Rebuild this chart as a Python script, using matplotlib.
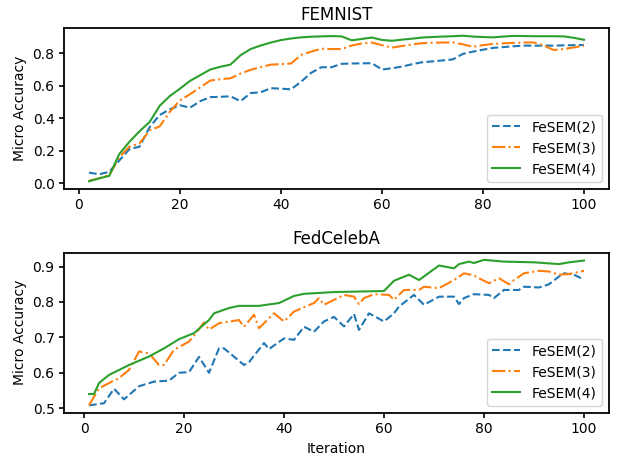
import matplotlib
matplotlib.use('Agg')
import matplotlib.pyplot as plt

plt.rcParams['axes.linewidth'] = 1.3
plt.rcParams['xtick.major.width'] = 1.2
plt.rcParams['ytick.major.width'] = 1.2

# FEMNIST (every 2 iterations)
fem_iter = list(range(2, 101, 2))
fem_sem2 = [0.065, 0.055, 0.07, 0.14, 0.21, 0.225, 0.345, 0.42, 0.455, 0.48,
            0.465, 0.505, 0.53, 0.532, 0.535, 0.505, 0.555, 0.56, 0.585, 0.582,
            0.578, 0.625, 0.68, 0.714, 0.714, 0.735, 0.737, 0.738, 0.739, 0.70,
            0.708, 0.718, 0.733, 0.745, 0.75, 0.756, 0.762, 0.796, 0.81, 0.822,
            0.833, 0.838, 0.843, 0.847, 0.847, 0.847, 0.847, 0.849, 0.85, 0.851]
fem_sem3 = [0.015, 0.03, 0.05, 0.16, 0.225, 0.245, 0.325, 0.35, 0.44, 0.51,
            0.548, 0.59, 0.632, 0.64, 0.646, 0.675, 0.698, 0.715, 0.73, 0.733,
            0.737, 0.79, 0.81, 0.828, 0.826, 0.826, 0.848, 0.86, 0.866, 0.85,
            0.835, 0.845, 0.855, 0.862, 0.865, 0.866, 0.867, 0.855, 0.84, 0.85,
            0.858, 0.861, 0.864, 0.866, 0.867, 0.848, 0.82, 0.826, 0.836, 0.847]
fem_sem4 = [0.012, 0.03, 0.045, 0.18, 0.255, 0.32, 0.377, 0.477, 0.537, 0.582,
            0.63, 0.665, 0.70, 0.717, 0.73, 0.788, 0.826, 0.848, 0.866, 0.881,
            0.891, 0.898, 0.902, 0.904, 0.906, 0.904, 0.88, 0.888, 0.897, 0.882,
            0.877, 0.884, 0.89, 0.897, 0.9, 0.903, 0.905, 0.908, 0.903, 0.9,
            0.898, 0.903, 0.907, 0.906, 0.905, 0.905, 0.905, 0.904, 0.895, 0.883]

# FedCelebA
celeb_iter2 = [1, 4, 6, 8, 11, 14, 17, 19, 21, 23, 25, 27, 28, 32, 33, 36, 37, 40, 42, 44,
               46, 48, 50, 52, 54, 55, 57, 60, 62, 63, 66, 68, 71, 74, 75, 76, 78, 81, 82, 84,
               87, 88, 91, 93, 95, 96, 98, 100]
celeb_sem2 = [0.508, 0.514, 0.555, 0.525, 0.562, 0.575, 0.578, 0.6, 0.602, 0.645,
              0.6, 0.669, 0.669, 0.622, 0.63, 0.684, 0.667, 0.697, 0.693, 0.73,
              0.716, 0.745, 0.758, 0.731, 0.766, 0.721, 0.768, 0.745, 0.768, 0.787,
              0.82, 0.792, 0.815, 0.815, 0.794, 0.811, 0.822, 0.82, 0.811, 0.834,
              0.834, 0.843, 0.841, 0.85, 0.872, 0.881, 0.877, 0.863]
celeb_iter3 = [1, 3, 5, 7, 9, 11, 13, 15, 16, 18, 21, 22, 24, 25, 27, 31, 32, 34, 35, 38,
               40, 42, 46, 47, 48, 50, 52, 54, 55, 56, 58, 61, 62, 64, 67, 68, 71, 74, 76, 78,
               79, 81, 83, 85, 86, 88, 91, 93, 95, 97, 100]
celeb_sem3 = [0.508, 0.556, 0.571, 0.585, 0.608, 0.66, 0.655, 0.622, 0.622, 0.665,
              0.688, 0.705, 0.742, 0.722, 0.74, 0.749, 0.73, 0.764, 0.726, 0.768,
              0.745, 0.773, 0.797, 0.811, 0.792, 0.806, 0.82, 0.815, 0.794, 0.811,
              0.822, 0.82, 0.806, 0.834, 0.834, 0.843, 0.839, 0.862, 0.881, 0.875,
              0.867, 0.853, 0.867, 0.85, 0.862, 0.881, 0.888, 0.886, 0.877, 0.879,
              0.888]
celeb_iter4 = [1, 2, 3, 5, 7, 9, 13, 16, 19, 22, 25, 26, 29, 31, 35, 39, 42, 44, 50, 60,
               62, 65, 67, 71, 74, 75, 77, 78, 80, 84, 90, 95, 97, 100]
celeb_sem4 = [0.54, 0.54, 0.571, 0.594, 0.608, 0.622, 0.646, 0.669, 0.695, 0.712,
              0.749, 0.768, 0.783, 0.789, 0.789, 0.797, 0.817, 0.823, 0.828, 0.831,
              0.86, 0.877, 0.862, 0.903, 0.895, 0.907, 0.914, 0.91, 0.919, 0.914,
              0.912, 0.907, 0.912, 0.917]

fig, (ax1, ax2) = plt.subplots(2, 1, figsize=(6.18, 4.59), dpi=100)

ax1.plot(fem_iter, fem_sem2, linestyle='--', color='tab:blue', label='FeSEM(2)')
ax1.plot(fem_iter, fem_sem3, linestyle='-.', color='tab:orange', label='FeSEM(3)')
ax1.plot(fem_iter, fem_sem4, linestyle='-', color='tab:green', label='FeSEM(4)')
ax1.set_title('FEMNIST')
ax1.set_ylabel('Micro Accuracy')
ax1.legend(loc='lower right')

ax2.plot(celeb_iter2, celeb_sem2, linestyle='--', color='tab:blue', label='FeSEM(2)')
ax2.plot(celeb_iter3, celeb_sem3, linestyle='-.', color='tab:orange', label='FeSEM(3)')
ax2.plot(celeb_iter4, celeb_sem4, linestyle='-', color='tab:green', label='FeSEM(4)')
ax2.set_title('FedCelebA')
ax2.set_ylabel('Micro Accuracy')
ax2.set_xlabel('Iteration')
ax2.legend(loc='lower right')

plt.subplots_adjust(left=0.104, right=0.985, top=0.938, bottom=0.101, hspace=0.4)
plt.savefig('out.png')
